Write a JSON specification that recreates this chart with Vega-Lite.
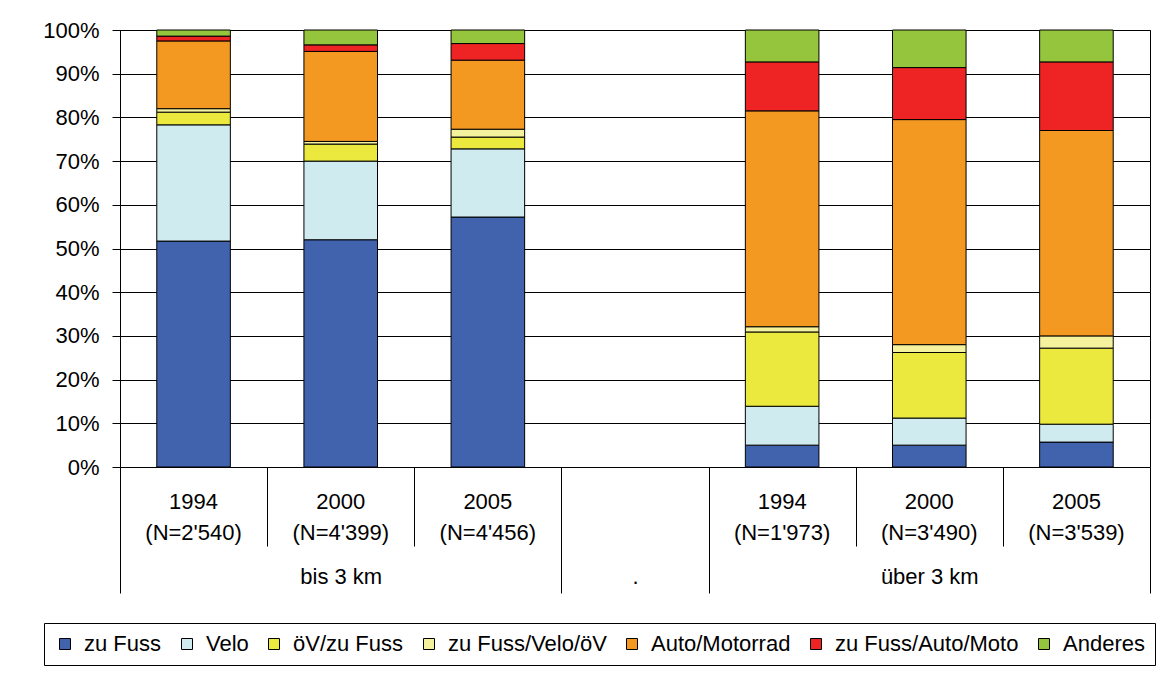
{
  "$schema": "https://vega.github.io/schema/vega-lite/v6.json",
  "autosize": {"type": "none"},
  "padding": {"left": 120, "top": 30, "right": 20, "bottom": 217},
  "width": 1030,
  "height": 437,
  "background": "white",
  "config": {
    "font": "Liberation Sans",
    "view": {"stroke": "black", "strokeWidth": 1},
    "axis": {"labelFont": "Liberation Sans", "labelColor": "black", "labelFontSize": 22, "domainColor": "black", "tickColor": "black", "gridColor": "black", "gridOpacity": 1},
    "legend": {"labelFont": "Liberation Sans", "labelFontSize": 22, "labelColor": "black", "symbolType": "square"}
  },
  "datasets": {
    "bars": [
      {"cat": "b1994", "mode": "zu Fuss", "o": 1, "pct": 51.7},
      {"cat": "b1994", "mode": "Velo", "o": 2, "pct": 26.6},
      {"cat": "b1994", "mode": "öV/zu Fuss", "o": 3, "pct": 2.9},
      {"cat": "b1994", "mode": "zu Fuss/Velo/öV", "o": 4, "pct": 0.8},
      {"cat": "b1994", "mode": "Auto/Motorrad", "o": 5, "pct": 15.5},
      {"cat": "b1994", "mode": "zu Fuss/Auto/Moto", "o": 6, "pct": 1.1},
      {"cat": "b1994", "mode": "Anderes", "o": 7, "pct": 1.4},
      {"cat": "b2000", "mode": "zu Fuss", "o": 1, "pct": 52.0},
      {"cat": "b2000", "mode": "Velo", "o": 2, "pct": 18.0},
      {"cat": "b2000", "mode": "öV/zu Fuss", "o": 3, "pct": 3.9},
      {"cat": "b2000", "mode": "zu Fuss/Velo/öV", "o": 4, "pct": 0.6},
      {"cat": "b2000", "mode": "Auto/Motorrad", "o": 5, "pct": 20.6},
      {"cat": "b2000", "mode": "zu Fuss/Auto/Moto", "o": 6, "pct": 1.5},
      {"cat": "b2000", "mode": "Anderes", "o": 7, "pct": 3.4},
      {"cat": "b2005", "mode": "zu Fuss", "o": 1, "pct": 57.2},
      {"cat": "b2005", "mode": "Velo", "o": 2, "pct": 15.6},
      {"cat": "b2005", "mode": "öV/zu Fuss", "o": 3, "pct": 2.7},
      {"cat": "b2005", "mode": "zu Fuss/Velo/öV", "o": 4, "pct": 1.8},
      {"cat": "b2005", "mode": "Auto/Motorrad", "o": 5, "pct": 15.8},
      {"cat": "b2005", "mode": "zu Fuss/Auto/Moto", "o": 6, "pct": 3.8},
      {"cat": "b2005", "mode": "Anderes", "o": 7, "pct": 3.1},
      {"cat": "u1994", "mode": "zu Fuss", "o": 1, "pct": 5.0},
      {"cat": "u1994", "mode": "Velo", "o": 2, "pct": 8.9},
      {"cat": "u1994", "mode": "öV/zu Fuss", "o": 3, "pct": 17.0},
      {"cat": "u1994", "mode": "zu Fuss/Velo/öV", "o": 4, "pct": 1.2},
      {"cat": "u1994", "mode": "Auto/Motorrad", "o": 5, "pct": 49.4},
      {"cat": "u1994", "mode": "zu Fuss/Auto/Moto", "o": 6, "pct": 11.2},
      {"cat": "u1994", "mode": "Anderes", "o": 7, "pct": 7.3},
      {"cat": "u2000", "mode": "zu Fuss", "o": 1, "pct": 5.0},
      {"cat": "u2000", "mode": "Velo", "o": 2, "pct": 6.2},
      {"cat": "u2000", "mode": "öV/zu Fuss", "o": 3, "pct": 15.0},
      {"cat": "u2000", "mode": "zu Fuss/Velo/öV", "o": 4, "pct": 1.8},
      {"cat": "u2000", "mode": "Auto/Motorrad", "o": 5, "pct": 51.5},
      {"cat": "u2000", "mode": "zu Fuss/Auto/Moto", "o": 6, "pct": 11.9},
      {"cat": "u2000", "mode": "Anderes", "o": 7, "pct": 8.6},
      {"cat": "u2005", "mode": "zu Fuss", "o": 1, "pct": 5.7},
      {"cat": "u2005", "mode": "Velo", "o": 2, "pct": 4.1},
      {"cat": "u2005", "mode": "öV/zu Fuss", "o": 3, "pct": 17.4},
      {"cat": "u2005", "mode": "zu Fuss/Velo/öV", "o": 4, "pct": 2.8},
      {"cat": "u2005", "mode": "Auto/Motorrad", "o": 5, "pct": 47.0},
      {"cat": "u2005", "mode": "zu Fuss/Auto/Moto", "o": 6, "pct": 15.7},
      {"cat": "u2005", "mode": "Anderes", "o": 7, "pct": 7.3}
    ],
    "seps": [
      {"p": 0}, {"p": 7}
    ]
  },
  "layer": [
    {
      "data": {"name": "bars"},
      "mark": {"type": "bar", "stroke": "black", "strokeWidth": 1},
      "encoding": {
        "x": {
          "field": "cat", "type": "nominal",
          "scale": {"domain": ["b1994", "b2000", "b2005", "gap", "u1994", "u2000", "u2005"], "paddingInner": 0.5, "paddingOuter": 0.25},
          "axis": {
            "title": null, "orient": "bottom", "ticks": false, "domain": false, "labelAngle": 0, "labelPadding": 24, "labelLineHeight": 31,
            "labelExpr": "datum.label == 'b1994' ? ['1994', \"(N=2'540)\"] : datum.label == 'b2000' ? ['2000', \"(N=4'399)\"] : datum.label == 'b2005' ? ['2005', \"(N=4'456)\"] : datum.label == 'u1994' ? ['1994', \"(N=1'973)\"] : datum.label == 'u2000' ? ['2000', \"(N=3'490)\"] : datum.label == 'u2005' ? ['2005', \"(N=3'539)\"] : ''"
          }
        },
        "y": {
          "field": "pct", "type": "quantitative", "stack": "zero",
          "scale": {"domain": [0, 100], "nice": false},
          "axis": {"title": null, "values": [0, 10, 20, 30, 40, 50, 60, 70, 80, 90, 100], "labelExpr": "datum.value + '%'", "tickSize": 8, "labelPadding": 13, "grid": true, "domain": true}
        },
        "order": {"field": "o", "type": "quantitative", "sort": "ascending"},
        "color": {
          "field": "mode", "type": "nominal",
          "scale": {
            "domain": ["zu Fuss", "Velo", "öV/zu Fuss", "zu Fuss/Velo/öV", "Auto/Motorrad", "zu Fuss/Auto/Moto", "Anderes"],
            "range": ["#4163AD", "#CFEBEF", "#ECE93E", "#F5F29D", "#F39820", "#EE2324", "#95C43D"]
          },
          "legend": {
            "title": null, "orient": "none", "direction": "horizontal", "legendX": -76, "legendY": 593,
            "symbolType": "square", "symbolSize": 121, "symbolStrokeWidth": 1,
            "labelOffset": 8, "columnPadding": 14, "padding": 10, "strokeColor": "black", "labelLimit": 300
          }
        }
      }
    },
    {
      "data": {"name": "seps"},
      "mark": {"type": "rule", "opacity": 0},
      "encoding": {
        "x": {
          "field": "p", "type": "quantitative",
          "scale": {"domain": [0, 7], "nice": false, "zero": false},
          "axis": {
            "title": null, "orient": "bottom", "domain": false, "grid": false,
            "values": [0, 1, 1.5, 2, 3, 3.5, 4, 5, 5.5, 6, 7],
            "tickSize": {"condition": {"test": "datum.value == 0 || datum.value == 3 || datum.value == 4 || datum.value == 7", "value": 126}, "value": 79},
            "tickOpacity": {"condition": {"test": "datum.value % 1 != 0", "value": 0}, "value": 1},
            "labelPadding": 20,
            "labelExpr": "datum.value == 1.5 ? 'bis 3 km' : datum.value == 3.5 ? '.' : datum.value == 5.5 ? 'über 3 km' : ''"
          }
        }
      }
    }
  ],
  "resolve": {"scale": {"x": "independent"}, "axis": {"x": "independent"}}
}
